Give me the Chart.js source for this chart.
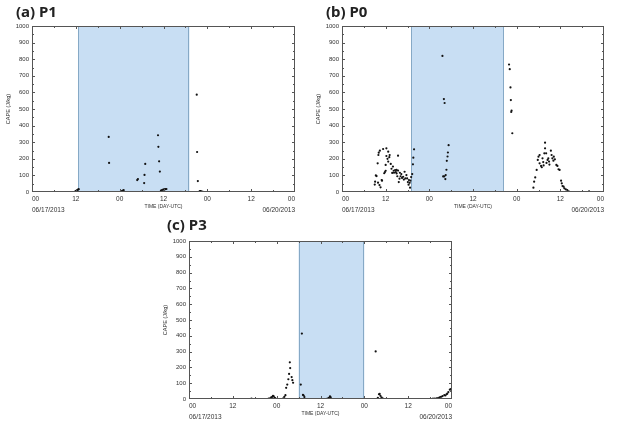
<!DOCTYPE html>
<html>
<head>
<meta charset="utf-8">
<script src="https://cdn.jsdelivr.net/npm/chart.js"></script>
<style>
  body { margin: 0; background: #fff; }
  #wrap { position: relative; width: 619px; height: 426px; }
  canvas { position: absolute; }
  .ttl { position: absolute; font: bold 15px/15px "Noto Sans", sans-serif; color: #222; }
</style>
</head>
<body>
<div id="wrap">
  <canvas id="chartA" width="310" height="215" style="left:0;top:0"></canvas>
  <canvas id="chartB" width="309" height="215" style="left:310px;top:0"></canvas>
  <canvas id="chartC" width="310" height="207" style="left:157px;top:215px"></canvas>
  <div class="ttl" style="left:16px;top:4px">(a) P1</div>
  <div class="ttl" style="left:326px;top:4px">(b) P0</div>
  <div class="ttl" style="left:167px;top:217px">(c) P3</div>
</div>
<script>
// 시간축 (06/17 00UTC 부터 경과 시간) 과 CAPE 값
const hourLabels = ['00', '12', '00', '12', '00', '12', '00'];
const dateLabels = ['06/17/2013', '06/20/2013'];

const p1Hours = [4, 5, 6, 11.8, 12.0, 12.2, 12.4, 12.6, 12.8, 21.0, 21.1, 24.3, 24.6, 24.9, 25.1,
  28.8, 29.0, 30.7, 30.8, 31.0, 34.5, 34.6, 34.8, 35.0, 35.3, 35.6, 35.9, 36.2, 36.5, 36.8,
  45.1, 45.2, 45.4, 45.8, 46.0, 46.2, 46.5, 46.8];
const p1Cape = [0, 0, 0, 2, 5, 8, 12, 15, 17, 332, 175, 2, 5, 9, 11,
  72, 78, 54, 103, 169, 342, 272, 185, 123, 8, 12, 14, 16, 17, 18,
  586, 241, 66, 3, 6, 5, 3, 1];

const p0Hours = [9.0, 9.1, 9.3, 9.5, 9.8, 9.9, 10.0, 10.1, 10.3, 10.4, 10.6, 10.9, 11.0, 11.3, 11.6,
  11.8, 12.0, 12.0, 12.2, 12.2, 12.5, 12.7, 12.7, 13.0, 13.1, 13.4, 13.6, 13.8, 14.0, 14.2,
  14.3, 14.6, 14.8, 15.0, 15.0, 15.2, 15.4, 15.4, 15.6, 15.8, 15.9, 16.1, 16.3, 16.5, 16.8,
  17.0, 17.2, 17.4, 17.7, 17.9, 18.1, 18.3, 18.4, 18.6, 18.7, 18.8, 19.0,
  19.3, 19.5, 19.6, 19.8,
  27.6, 27.8, 28.0, 28.1, 28.2, 28.4, 28.5, 28.7, 28.8, 29.0, 29.1, 29.3,
  45.9, 46.1, 46.3, 46.4, 46.5, 46.6, 46.8,
  52.6, 52.8, 53.1, 53.5, 53.8, 54.0, 54.3, 54.3, 54.7, 54.9, 55.1, 55.3, 55.4, 55.6, 55.8,
  55.8, 56.1, 56.2, 56.5, 56.7, 56.9, 57.0, 57.4, 57.6, 57.8, 58.1, 58.2, 58.5, 58.9, 59.2,
  59.5, 59.8, 60.2, 60.4, 60.6, 60.9, 61.1, 61.5, 61.9, 62.3, 67.9];
const p0Cape = [45, 62, 100, 96, 173, 56, 223, 237, 42, 249, 28, 72, 68, 259, 113,
  120, 128, 163, 217, 263, 200, 183, 243, 210, 223, 169, 140, 115, 153, 128,
  116, 132, 120, 133, 112, 95, 129, 219, 60, 80, 116, 95, 108, 85, 92,
  75, 122, 82, 102, 82, 60, 44, 72, 55, 26, 68, 90,
  108, 167, 207, 257,
  820, 94, 560, 94, 536, 78, 102, 134, 188, 214, 238, 282,
  768, 740, 630, 554, 482, 490, 354,
  26, 62, 88, 133, 193, 213, 223, 173, 157, 149, 203, 180, 160, 233, 263,
  297, 233, 175, 193, 203, 183, 165, 249, 223, 203, 189, 213, 197, 163, 157,
  137, 133, 68, 52, 36, 32, 22, 16, 12, 4, 4];

const p3Hours = [17.1, 21.8, 22.2, 22.5, 22.8, 23.0, 23.2, 23.5, 23.7,
  25.8, 26.1, 26.4, 26.6, 26.9, 27.2, 27.4, 27.6, 27.7, 28.1, 28.3, 28.5,
  30.6, 30.9, 31.2, 31.4, 31.6, 37.9, 38.3, 38.6, 38.8,
  51.1, 51.7, 52.0, 52.2, 52.4, 52.7, 53.0,
  66.8, 67.3, 67.8, 68.2, 68.6, 69.0, 69.4, 69.9, 70.2, 70.5, 70.7, 71.0, 71.4, 71.7, 71.9];
const p3Cape = [3, 2, 4, 10, 14, 20, 16, 8, 2,
  4, 14, 24, 71, 91, 125, 159, 232, 196, 139, 119, 103,
  91, 414, 26, 22, 12, 3, 8, 16, 10,
  301, 8, 30, 32, 20, 10, 4,
  2, 2, 4, 6, 10, 14, 18, 24, 22, 30, 34, 44, 59, 63, 55];

// 음영 구간 (시간)
const shadeP1 = [12.7, 43.1];
const shadeP0 = [19.0, 44.4];
const shadeP3 = [30, 48];

const tickFont = "'Liberation Sans', Arial, sans-serif";

// 음영 + 테두리 + 안쪽 눈금
const panelFrame = {
  id: 'panelFrame',
  beforeDatasetsDraw(chart, args, opts) {
    const { ctx, chartArea: a, scales: { x } } = chart;
    const x0 = x.getPixelForValue(opts.shade[0]);
    const x1 = x.getPixelForValue(opts.shade[1]);
    ctx.save();
    ctx.fillStyle = '#c8def3';
    ctx.fillRect(x0, a.top, x1 - x0, a.bottom - a.top);
    ctx.strokeStyle = '#86a9c6';
    ctx.lineWidth = 1;
    ctx.beginPath();
    ctx.moveTo(Math.round(x0) + 0.5, a.top);
    ctx.lineTo(Math.round(x0) + 0.5, a.bottom);
    ctx.moveTo(Math.round(x1) - 0.5, a.top);
    ctx.lineTo(Math.round(x1) - 0.5, a.bottom);
    ctx.stroke();
    ctx.restore();
  },
  afterDatasetsDraw(chart) {
    const { ctx, chartArea: a, scales: { x, y } } = chart;
    ctx.save();
    ctx.strokeStyle = '#555';
    ctx.lineWidth = 1;
    ctx.strokeRect(Math.round(a.left) + 0.5, Math.round(a.top) + 0.5,
      Math.round(a.right - a.left) - 1, Math.round(a.bottom - a.top) - 1);
    ctx.beginPath();
    for (let h = 6; h < 72; h += 6) {
      const px = Math.round(x.getPixelForValue(h)) + 0.5;
      const len = h % 12 === 0 ? 3 : 2;
      ctx.moveTo(px, a.bottom); ctx.lineTo(px, a.bottom - len);
      ctx.moveTo(px, a.top); ctx.lineTo(px, a.top + len);
    }
    for (let v = 50; v < 1000; v += 50) {
      const py = Math.round(y.getPixelForValue(v)) + 0.5;
      const len = v % 100 === 0 ? 3 : 2;
      ctx.moveTo(a.left, py); ctx.lineTo(a.left + len, py);
      ctx.moveTo(a.right, py); ctx.lineTo(a.right - len, py);
    }
    ctx.stroke();
    ctx.restore();
  }
};

function makePanel(id, hours, cape, shade) {
  const pts = hours.map((h, i) => ({ x: h, y: cape[i] }));
  return new Chart(document.getElementById(id), {
    type: 'scatter',
    data: {
      datasets: [{
        data: pts,
        pointRadius: 1.1,
        pointBackgroundColor: '#111',
        pointBorderWidth: 0
      }]
    },
    options: {
      responsive: false,
      animation: false,
      layout: { padding: { top: 26, right: 15, left: 4, bottom: 0 } },
      plugins: {
        legend: { display: false },
        tooltip: { enabled: false },
        panelFrame: { shade: shade }
      },
      scales: {
        x: {
          type: 'linear',
          min: 0,
          max: 72,
          afterFit: s => { s.height = 23; },
          grid: { display: false, drawTicks: false },
          border: { display: false },
          ticks: {
            stepSize: 12,
            padding: 1.5,
            align: 'inner',
            maxRotation: 0,
            autoSkip: false,
            color: '#333',
            font: { family: tickFont, size: 6.5, lineHeight: 1.7 },
            callback: function(v, i) {
              if (i === 0) return [hourLabels[0], dateLabels[0]];
              if (i === 6) return [hourLabels[6], dateLabels[1]];
              return hourLabels[i];
            }
          },
          title: {
            display: true,
            text: 'TIME (DAY-UTC)',
            color: '#333',
            font: { family: tickFont, size: 5 },
            padding: { top: 0, bottom: 5.5 }
          }
        },
        y: {
          min: 0,
          max: 1000,
          afterFit: s => { s.width = 28; },
          grid: { display: false, drawTicks: false },
          border: { display: false },
          ticks: {
            stepSize: 100,
            padding: 3,
            color: '#333',
            font: { family: tickFont, size: 6 },
            callback: v => String(v)
          },
          title: {
            display: true,
            text: 'CAPE (J/kg)',
            color: '#333',
            font: { family: tickFont, size: 5.5 },
            padding: { top: 1, bottom: 0 }
          }
        }
      }
    },
    plugins: [panelFrame]
  });
}

makePanel('chartA', p1Hours, p1Cape, shadeP1);
makePanel('chartB', p0Hours, p0Cape, shadeP0);
makePanel('chartC', p3Hours, p3Cape, shadeP3);
</script>
</body>
</html>
